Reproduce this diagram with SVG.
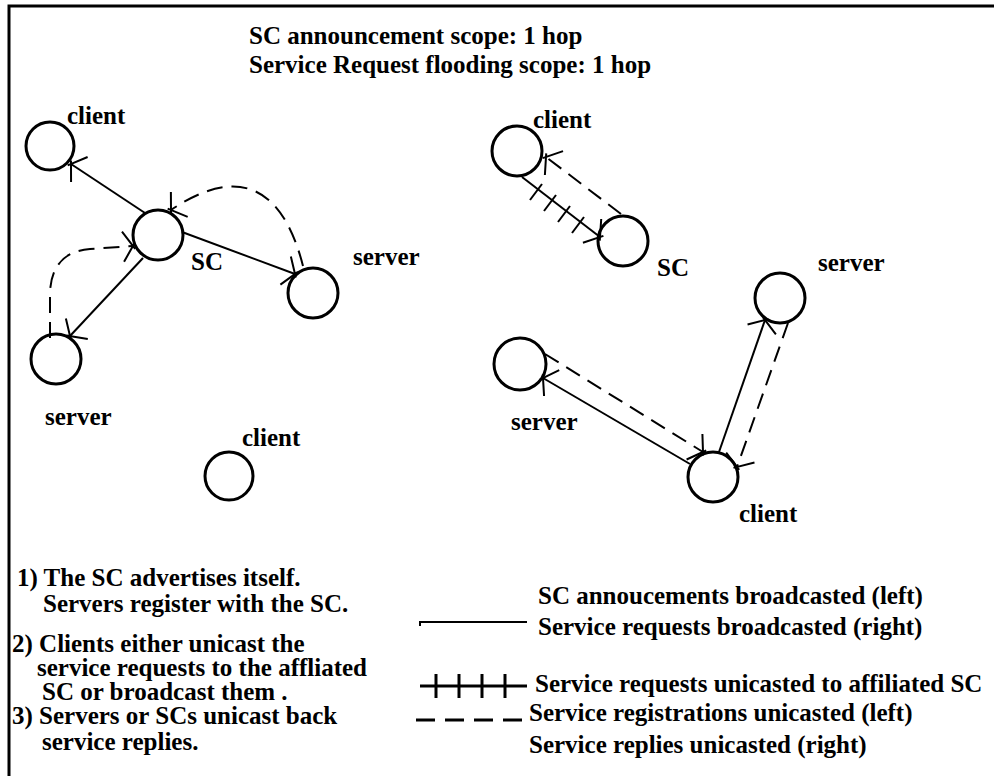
<svg xmlns="http://www.w3.org/2000/svg" width="994" height="776" viewBox="0 0 994 776">
<style>
text{font-family:"Liberation Serif","Times New Roman",serif;font-weight:bold;font-size:25px;fill:#000}
.node{fill:none;stroke:#000;stroke-width:3}
.c{fill:none;stroke:#000;stroke-width:2}
.d{stroke-dasharray:16 9}
.h{fill:none;stroke:#000;stroke-width:2}
</style>
<defs>
<marker id="ah" markerUnits="userSpaceOnUse" markerWidth="40" markerHeight="40" refX="0" refY="0" viewBox="-20 -20 40 40" orient="auto" overflow="visible">
<path d="M -10,-15 L 2,3 M -10,15 L 2,-3" fill="none" stroke="#000" stroke-width="2"/>
</marker>
</defs>
<rect width="994" height="776" fill="#fff"/>
<path d="M 9,776 L 9,6 L 994,6" fill="none" stroke="#000" stroke-width="3"/>
<g id="header">
<text x="249" y="44">SC announcement scope: 1 hop</text>
<text x="249" y="73">Service Request flooding scope: 1 hop</text>
</g>
<g id="connectors">
<line class="c" x1="145" y1="213" x2="71" y2="164" marker-end="url(#ah)"/>
<line class="c" x1="182" y1="232" x2="295" y2="274" marker-end="url(#ah)"/>
<line class="c" x1="143" y1="258" x2="70" y2="336" marker-end="url(#ah)"/>
<path class="c d" d="M 50,338 L 50,292 Q 52,252 90,249 L 133,246" marker-end="url(#ah)"/>
<path class="c d" d="M 303,266 C 285,195 245,160 171,210" marker-end="url(#ah)"/>
<line class="c" x1="522" y1="177" x2="600" y2="237" marker-end="url(#ah)"/>
<g class="h">
<line x1="530" y1="200" x2="542" y2="184"/>
<line x1="544" y1="211" x2="556" y2="195"/>
<line x1="558" y1="222" x2="570" y2="206"/>
<line x1="572" y1="233" x2="584" y2="217"/>
</g>
<path class="c d" d="M 621,214 L 546,157" marker-end="url(#ah)"/>
<line class="c" x1="690" y1="464" x2="543" y2="378" marker-end="url(#ah)"/>
<path class="c d" d="M 545,354 L 703,452" marker-end="url(#ah)"/>
<line class="c" x1="719" y1="452" x2="765" y2="320" marker-end="url(#ah)"/>
<path class="c d" d="M 788,323 L 737,467" marker-end="url(#ah)"/>
</g>
<g id="client-l"><circle class="node" cx="50" cy="146" r="24"/><text x="67" y="124">client</text></g>
<g id="sc-l"><circle class="node" cx="158" cy="235" r="25"/><text x="191" y="270">SC</text></g>
<g id="server-l1"><circle class="node" cx="313" cy="293" r="25"/><text x="353" y="265">server</text></g>
<g id="server-l2"><circle class="node" cx="56" cy="359" r="25"/><text x="45" y="425">server</text></g>
<g id="client-l2"><circle class="node" cx="229" cy="476" r="24"/><text x="242" y="446">client</text></g>
<g id="client-r1"><circle class="node" cx="517" cy="151" r="25"/><text x="533" y="128">client</text></g>
<g id="sc-r"><circle class="node" cx="623" cy="241" r="25"/><text x="657" y="276">SC</text></g>
<g id="server-r1"><circle class="node" cx="780" cy="298" r="25"/><text x="818" y="271">server</text></g>
<g id="server-r2"><circle class="node" cx="520" cy="364" r="26"/><text x="511" y="430">server</text></g>
<g id="client-r2"><circle class="node" cx="713" cy="477" r="25"/><text x="739" y="522">client</text></g>
<g id="notes">
<text x="17" y="586">1) The SC advertises itself.</text>
<text x="43" y="612">Servers register with the SC.</text>
<text x="12" y="652">2) Clients either unicast the</text>
<text x="37" y="676">service requests to the affliated</text>
<text x="42" y="700">SC or broadcast them .</text>
<text x="12" y="724">3) Servers or SCs unicast back</text>
<text x="42" y="750">service replies.</text>
</g>
<g id="legend">
<path d="M 420,626 L 420,622 L 527,622" fill="none" stroke="#000" stroke-width="2"/>
<text x="538" y="604">SC annoucements broadcasted (left)</text>
<text x="538" y="635">Service requests broadcasted (right)</text>
<line x1="420" y1="686" x2="527" y2="686" stroke="#000" stroke-width="3"/>
<g stroke="#000" stroke-width="3">
<line x1="436" y1="674" x2="436" y2="698"/>
<line x1="459" y1="674" x2="459" y2="698"/>
<line x1="482" y1="674" x2="482" y2="698"/>
<line x1="505" y1="674" x2="505" y2="698"/>
</g>
<text x="535" y="692">Service requests unicasted to affiliated SC</text>
<line x1="416" y1="720" x2="525" y2="720" stroke="#000" stroke-width="3" stroke-dasharray="19 10"/>
<text x="529" y="721">Service registrations unicasted (left)</text>
<text x="529" y="753">Service replies unicasted (right)</text>
</g>
</svg>
